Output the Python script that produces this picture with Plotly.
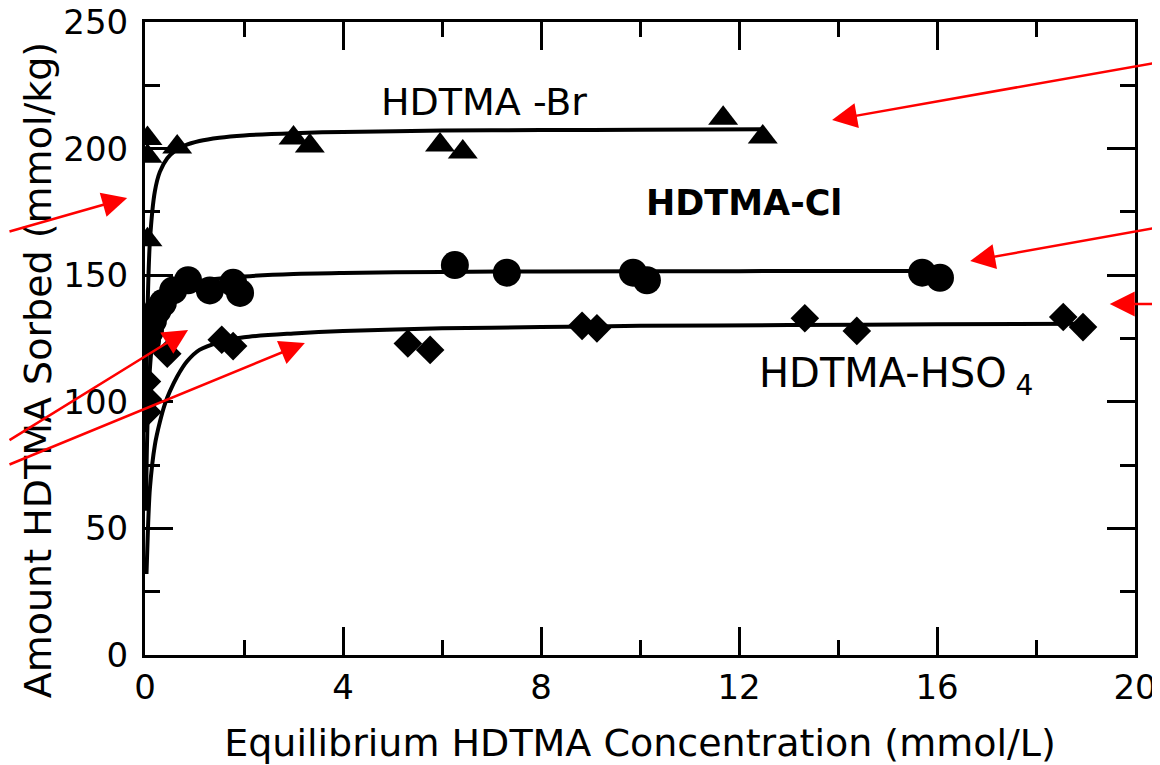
import plotly.graph_objects as go

# ---- data ----
br_x = [0.05, 0.05, 0.05, 0.65, 3.0, 3.33, 5.96, 6.42, 11.68, 12.48]
br_y = [204, 197, 164, 200.6, 204.2, 201, 201.4, 198.7, 212, 204.6]

cl_x = [0.04, 0.1, 0.16, 0.25, 0.36, 0.57, 0.87, 1.31, 1.78, 1.92, 6.26, 7.31, 9.86, 10.14, 15.7, 16.06]
cl_y = [124, 128, 132, 136, 139, 144, 148, 144, 147, 143, 154, 151, 151, 148, 151, 149]

hso_x = [0.04, 0.06, 0.05, 0.45, 1.55, 1.78, 5.31, 5.76, 8.83, 9.13, 13.33, 14.38, 18.55, 18.95]
hso_y = [108, 101, 96, 119, 124.5, 122, 123, 120.5, 130, 129, 133, 128, 133.5, 129.5]

# fitted curves
br_fit_x = [0.02, 0.05, 0.1, 0.2, 0.3, 0.45, 0.6, 0.8, 1.1, 1.5, 2.0, 3.0, 4.0, 6.0, 8.0, 10.0, 12.5]
br_fit_y = [88, 135, 163.7, 183.2, 190.8, 196.2, 199, 201.2, 203, 204.3, 205.2, 206.1, 206.6, 207.1, 207.3, 207.4, 207.6]

cl_fit_x = [0.02, 0.04, 0.08, 0.15, 0.25, 0.4, 0.6, 0.9, 1.3, 2.0, 3.0, 4.0, 6.0, 8.0, 12.0, 16.1]
cl_fit_y = [57, 83, 107, 124, 134, 140, 144, 146.6, 148.2, 149.5, 150.5, 150.9, 151.3, 151.5, 151.6, 151.7]

hso_fit_x = [0.03, 0.06, 0.1, 0.2, 0.3, 0.4, 0.5, 0.65, 0.85, 1.1, 1.5, 2.0, 3.0, 4.0, 6.0, 8.0, 10.0, 13.0, 16.0, 19.0]
hso_fit_y = [32, 50, 66, 83, 92, 99, 104, 110, 116, 120.5, 123.5, 125.5, 127, 128, 129, 129.5, 130, 130.3, 130.6, 130.8]

x_ticks = [0, 4, 8, 12, 16, 20]
y_ticks = [0, 50, 100, 150, 200, 250]
X_MAX, Y_MAX = 20, 250

# arrows: (head_x, head_y, tail_x, tail_y) in data units
arrows = [
    (13.88, 211.3, 20.6, 234.2),
    (-0.36, 180.5, -3.0, 167.1),
    (16.67, 155.6, 20.6, 169.0),
    (19.49, 138.6, 20.6, 138.6),
    (0.87, 128.4, -3.0, 84.5),
    (3.23, 123.2, -3.0, 75.0),
]

FONT = "DejaVu Sans"

# figure geometry (the page body adds an 8px margin, so the figure is 8px smaller than the window)
W, H = 1152, 757
ML, MR, MT, MB = 137, 25, 14, 110
PW, PH = W - ML - MR, H - MT - MB

fig = go.Figure()
for fx, fy in [(br_fit_x, br_fit_y), (cl_fit_x, cl_fit_y), (hso_fit_x, hso_fit_y)]:
    fig.add_trace(go.Scatter(x=fx, y=fy, mode="lines",
                             line=dict(color="black", width=4, shape="spline", smoothing=0.8),
                             showlegend=False, hoverinfo="skip"))

fig.add_trace(go.Scatter(x=br_x, y=br_y, mode="markers",
                         marker=dict(symbol="triangle-up", size=26, color="black"),
                         showlegend=False))
fig.add_trace(go.Scatter(x=cl_x, y=cl_y, mode="markers",
                         marker=dict(symbol="circle", size=28, color="black"),
                         showlegend=False))
fig.add_trace(go.Scatter(x=hso_x, y=hso_y, mode="markers",
                         marker=dict(symbol="diamond", size=22, color="black"),
                         showlegend=False))

axis_common = dict(showline=True, linecolor="black", linewidth=3, mirror="ticks",
                   ticks="inside", tickwidth=2.5, ticklen=28, tickcolor="black",
                   showgrid=False, zeroline=False, ticklabeloverflow="allow",
                   tickfont=dict(family=FONT, size=34, color="black"))

fig.update_xaxes(range=[0, X_MAX], tickvals=x_ticks,
                 minor=dict(dtick=2, ticks="inside", ticklen=15, tickwidth=2.5, tickcolor="black", showgrid=False),
                 title=dict(text="Equilibrium HDTMA Concentration (mmol/L)",
                            font=dict(family=FONT, size=38, color="black"), standoff=24),
                 ticklabelstandoff=0, **axis_common)
fig.update_yaxes(range=[0, Y_MAX], tickvals=y_ticks,
                 minor=dict(dtick=25, ticks="inside", ticklen=15, tickwidth=2.5, tickcolor="black", showgrid=False),
                 ticklabelstandoff=7, **axis_common)

annotations = [
    dict(xref="paper", yref="paper", x=-0.108, y=0.45, text="Amount HDTMA Sorbed (mmol/kg)",
         textangle=-90, showarrow=False, xanchor="center", yanchor="middle",
         font=dict(family=FONT, size=38, color="black")),
    dict(x=6.85, y=218.4, text="HDTMA -Br", showarrow=False, xanchor="center", yanchor="middle",
         font=dict(family=FONT, size=38, color="black")),
    dict(x=12.1, y=178.5, text="<b>HDTMA-Cl</b>", showarrow=False, xanchor="center", yanchor="middle",
         font=dict(family=FONT, size=35, color="black")),
    dict(x=12.37, y=110.2, text="HDTMA-HSO<sub> 4</sub>", showarrow=False, xanchor="left", yanchor="middle",
         font=dict(family=FONT, size=40, color="black")),
]
for hx, hy, tx, ty in arrows:
    annotations.append(dict(x=hx / X_MAX, y=hy / Y_MAX, xref="paper", yref="paper",
                            ax=(tx - hx) * PW / X_MAX, ay=-(ty - hy) * PH / Y_MAX,
                            axref="pixel", ayref="pixel",
                            text="", showarrow=True, arrowhead=2, arrowsize=2.0, arrowwidth=2.5,
                            arrowcolor="#ff0000", standoff=0))

fig.update_layout(width=W, height=H,
                  margin=dict(l=ML, r=MR, t=MT, b=MB, autoexpand=False),
                  paper_bgcolor="white", plot_bgcolor="white",
                  annotations=annotations)

fig.write_html("out.html")
